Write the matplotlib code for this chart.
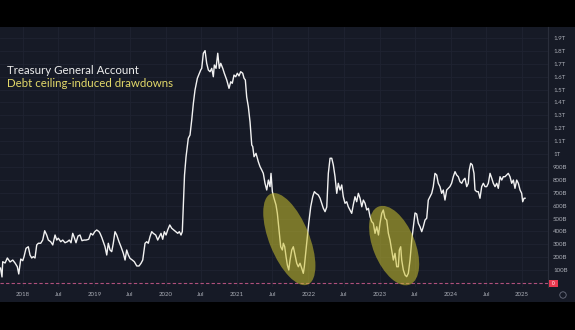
import matplotlib
matplotlib.use("Agg")
import matplotlib.pyplot as plt
from matplotlib.patches import Ellipse, Rectangle
import matplotlib.transforms as mtransforms

# ---- data (decimal year, TGA balance in billions USD) ----
years = [2017.684, 2017.705, 2017.715, 2017.748, 2017.780, 2017.818, 2017.856, 2017.888, 2017.920, 2017.940,
         2017.968, 2017.996, 2018.014, 2018.042, 2018.074, 2018.098, 2018.122, 2018.144, 2018.168, 2018.192,
         2018.215, 2018.248, 2018.276, 2018.304, 2018.332, 2018.355, 2018.388, 2018.417, 2018.449, 2018.473,
         2018.495, 2018.529, 2018.557, 2018.589, 2018.621, 2018.649, 2018.673, 2018.697, 2018.715, 2018.743,
         2018.771, 2018.799, 2018.827, 2018.856, 2018.884, 2018.921, 2018.950, 2018.978, 2019.006, 2019.034,
         2019.066, 2019.080, 2019.104, 2019.126, 2019.150, 2019.174, 2019.196, 2019.220, 2019.244, 2019.266,
         2019.290, 2019.314, 2019.346, 2019.374, 2019.407, 2019.431, 2019.454, 2019.477, 2019.501, 2019.533,
         2019.561, 2019.595, 2019.627, 2019.655, 2019.679, 2019.711, 2019.735, 2019.757, 2019.781, 2019.805,
         2019.827, 2019.861, 2019.889, 2019.912, 2019.935, 2019.959, 2019.982, 2020.006, 2020.029, 2020.058,
         2020.086, 2020.114, 2020.142, 2020.170, 2020.192, 2020.216, 2020.234, 2020.248, 2020.265, 2020.286,
         2020.318, 2020.342, 2020.366, 2020.389, 2020.412, 2020.445, 2020.473, 2020.492, 2020.506, 2020.529,
         2020.553, 2020.576, 2020.599, 2020.623, 2020.647, 2020.669, 2020.683, 2020.707, 2020.731, 2020.753,
         2020.773, 2020.801, 2020.823, 2020.857, 2020.889, 2020.913, 2020.935, 2020.959, 2020.983, 2021.006,
         2021.029, 2021.053, 2021.081, 2021.100, 2021.118, 2021.137, 2021.160, 2021.184, 2021.208, 2021.222,
         2021.240, 2021.268, 2021.300, 2021.324, 2021.348, 2021.370, 2021.394, 2021.418, 2021.441, 2021.464,
         2021.478, 2021.497, 2021.520, 2021.548, 2021.567, 2021.581, 2021.595, 2021.614, 2021.637, 2021.651,
         2021.670, 2021.689, 2021.707, 2021.727, 2021.745, 2021.769, 2021.791, 2021.815, 2021.839, 2021.861,
         2021.885, 2021.909, 2021.931, 2021.945, 2021.969, 2021.987, 2022.007, 2022.035, 2022.063, 2022.086,
         2022.109, 2022.142, 2022.166, 2022.189, 2022.212, 2022.236, 2022.260, 2022.282, 2022.306, 2022.330,
         2022.352, 2022.376, 2022.400, 2022.422, 2022.446, 2022.470, 2022.492, 2022.516, 2022.540, 2022.562,
         2022.586, 2022.610, 2022.632, 2022.656, 2022.680, 2022.703, 2022.727, 2022.751, 2022.773, 2022.797,
         2022.821, 2022.844, 2022.867, 2022.891, 2022.913, 2022.937, 2022.961, 2022.985, 2023.007, 2023.031,
         2023.053, 2023.077, 2023.101, 2023.124, 2023.147, 2023.171, 2023.194, 2023.217, 2023.241, 2023.264,
         2023.278, 2023.297, 2023.311, 2023.334, 2023.358, 2023.381, 2023.404, 2023.428, 2023.452, 2023.474,
         2023.498, 2023.521, 2023.544, 2023.568, 2023.592, 2023.614, 2023.638, 2023.662, 2023.684, 2023.708,
         2023.732, 2023.754, 2023.778, 2023.802, 2023.824, 2023.848, 2023.872, 2023.894, 2023.918, 2023.942,
         2023.964, 2023.987, 2024.011, 2024.035, 2024.059, 2024.082, 2024.105, 2024.129, 2024.153, 2024.175,
         2024.199, 2024.223, 2024.245, 2024.259, 2024.279, 2024.301, 2024.325, 2024.339, 2024.363, 2024.385,
         2024.409, 2024.433, 2024.456, 2024.480, 2024.503, 2024.526, 2024.550, 2024.574, 2024.596, 2024.620,
         2024.644, 2024.666, 2024.690, 2024.714, 2024.736, 2024.760, 2024.784, 2024.806, 2024.830, 2024.854,
         2024.877, 2024.900, 2024.924, 2024.947, 2024.971, 2024.994, 2025.008, 2025.027, 2025.041]
tga_billions = [116, 47, 165, 155, 194, 163, 178, 155, 126, 70,
                186, 173, 204, 269, 281, 217, 194, 204, 194, 295,
                308, 308, 333, 405, 372, 333, 320, 295, 372, 333,
                347, 320, 333, 312, 320, 333, 312, 385, 359, 312,
                364, 372, 328, 333, 333, 339, 385, 372, 398, 411,
                398, 385, 354, 320, 281, 217, 308, 256, 243, 308,
                398, 372, 320, 281, 230, 178, 256, 217, 191, 178,
                165, 132, 132, 153, 178, 308, 320, 308, 359, 398,
                385, 372, 333, 359, 385, 339, 398, 372, 411, 450,
                424, 411, 398, 385, 398, 372, 398, 605, 837, 977,
                1122, 1147, 1264, 1393, 1496, 1587, 1626, 1651, 1664, 1781,
                1801, 1703, 1651, 1638, 1664, 1599, 1690, 1664, 1781, 1664,
                1703, 1664, 1626, 1574, 1509, 1560, 1548, 1612, 1599, 1626,
                1605, 1638, 1626, 1587, 1574, 1442, 1367, 1248, 1070, 1057,
                979, 1005, 940, 902, 876, 850, 773, 721, 798, 747,
                850, 708, 657, 605, 540, 463, 385, 281, 256, 308,
                281, 204, 140, 101, 178, 256, 281, 217, 153, 126,
                153, 114, 75, 126, 256, 359, 463, 591, 669, 708,
                695, 682, 657, 618, 579, 553, 589, 850, 967, 967,
                915, 824, 695, 773, 721, 760, 669, 618, 630, 591,
                566, 540, 605, 669, 630, 695, 657, 591, 643, 618,
                566, 579, 514, 475, 463, 385, 436, 372, 463, 540,
                566, 502, 488, 385, 333, 256, 178, 230, 126, 126,
                256, 281, 178, 101, 62, 49, 75, 178, 333, 436,
                543, 535, 463, 436, 398, 436, 488, 502, 643, 669,
                695, 747, 850, 837, 773, 747, 695, 721, 643, 721,
                734, 747, 773, 824, 863, 837, 824, 785, 773, 798,
                812, 747, 773, 876, 928, 915, 850, 721, 708, 708,
                657, 747, 773, 747, 747, 773, 850, 812, 773, 747,
                773, 734, 824, 798, 824, 824, 837, 850, 824, 773,
                798, 734, 798, 773, 721, 695, 630, 657, 657]

y_ticks = [100, 200, 300, 400, 500, 600, 700, 800, 900, 1000,
           1100, 1200, 1300, 1400, 1500, 1600, 1700, 1800, 1900]
y_tick_labels = ["100B", "200B", "300B", "400B", "500B", "600B", "700B", "800B", "900B", "1T",
                 "1.1T", "1.2T", "1.3T", "1.4T", "1.5T", "1.6T", "1.7T", "1.8T", "1.9T"]
x_ticks = [2018.0, 2018.496, 2019.0, 2019.496, 2020.0, 2020.496, 2021.0, 2021.496,
           2022.0, 2022.496, 2023.0, 2023.496, 2024.0, 2024.496, 2025.0]
x_tick_labels = ["2018", "Jul", "2019", "Jul", "2020", "Jul", "2021", "Jul",
                 "2022", "Jul", "2023", "Jul", "2024", "Jul", "2025"]
# drawdown highlights: centre (year, billions)
highlight_centres = [(2021.735, 340), (2023.205, 290)]

BG = "#161a26"
GRID = "#1f2331"
TXT = "#a9acb5"

W, H = 575, 330
fig = plt.figure(figsize=(W / 100, H / 100), dpi=100, facecolor="black")
fig.patches.append(Rectangle((0, 28 / H), 1, 275 / H, transform=fig.transFigure,
                             facecolor=BG, edgecolor="none", zorder=-5))

ax = fig.add_axes([0, 43 / H, 548 / W, 260 / H])
ax.set_zorder(1)
ax.set_facecolor("none")
ax.set_xlim(2017.677, 2025.363)
ax.set_ylim(-31, 1984.5)

for s in ["top", "left", "bottom"]:
    ax.spines[s].set_visible(False)
ax.spines["right"].set_color("#2a2e3b")
ax.spines["right"].set_linewidth(0.8)

ax.yaxis.tick_right()
ax.set_yticks(y_ticks)
ax.set_yticklabels(y_tick_labels)
ax.set_xticks(x_ticks)
ax.set_xticklabels(x_tick_labels)
ax.tick_params(axis="y", length=0, pad=3.6, labelsize=4.4, labelcolor=TXT)
ax.tick_params(axis="x", length=0, pad=3.4, labelsize=4.4, labelcolor=TXT)
for lab in ax.get_yticklabels() + ax.get_xticklabels():
    lab.set_fontfamily("Lato")
ax.grid(True, color=GRID, linewidth=0.6, zorder=0)
ax.set_axisbelow(True)

ax.plot(years, tga_billions, color="#f2f2f2", linewidth=1.0, zorder=3, solid_joinstyle="round")

ax.axhline(0, color="#b0507c", linewidth=0.8, dashes=(3, 2), zorder=2)

# highlight ellipses (sizes in pixels, anchored at data centres)
sizes = [(98, 40), (84, 42)]
for (cx, cy), (w, h) in zip(highlight_centres, sizes):
    tr = fig.dpi_scale_trans + mtransforms.ScaledTranslation(cx, cy, ax.transData)
    e = Ellipse((0, 0), w / 100, h / 100, angle=-68, transform=tr,
                facecolor=(0.80, 0.76, 0.18), alpha=0.55, edgecolor="none", zorder=4)
    ax.add_patch(e)

# price-scale zero label
fig.patches.append(Rectangle((549 / W, (330 - 287) / H), 9 / W, 7 / H, transform=fig.transFigure,
                             facecolor="#e8384f", edgecolor="none", zorder=5))
fig.text(553.5 / W, 1 - 283.5 / H, "0", color="white", fontsize=3.5, ha="center", va="center",
         family="Lato", zorder=6)
fig.patches.append(Ellipse((563 / W, 1 - 295 / H), 6.4 / W, 6.4 / H, transform=fig.transFigure,
                           facecolor="none", edgecolor="#6c7080", linewidth=0.6, zorder=5))

fig.text(7 / W, 1 - 70 / H, "Treasury General Account", color="#ececec", fontsize=8.3,
         family="Lato", va="center", ha="left")
fig.text(7 / W, 1 - 83.5 / H, "Debt ceiling-induced drawdowns", color="#e3d96a", fontsize=8.3,
         family="Lato", va="center", ha="left")

fig.savefig("out.png", dpi=100, facecolor="black")
